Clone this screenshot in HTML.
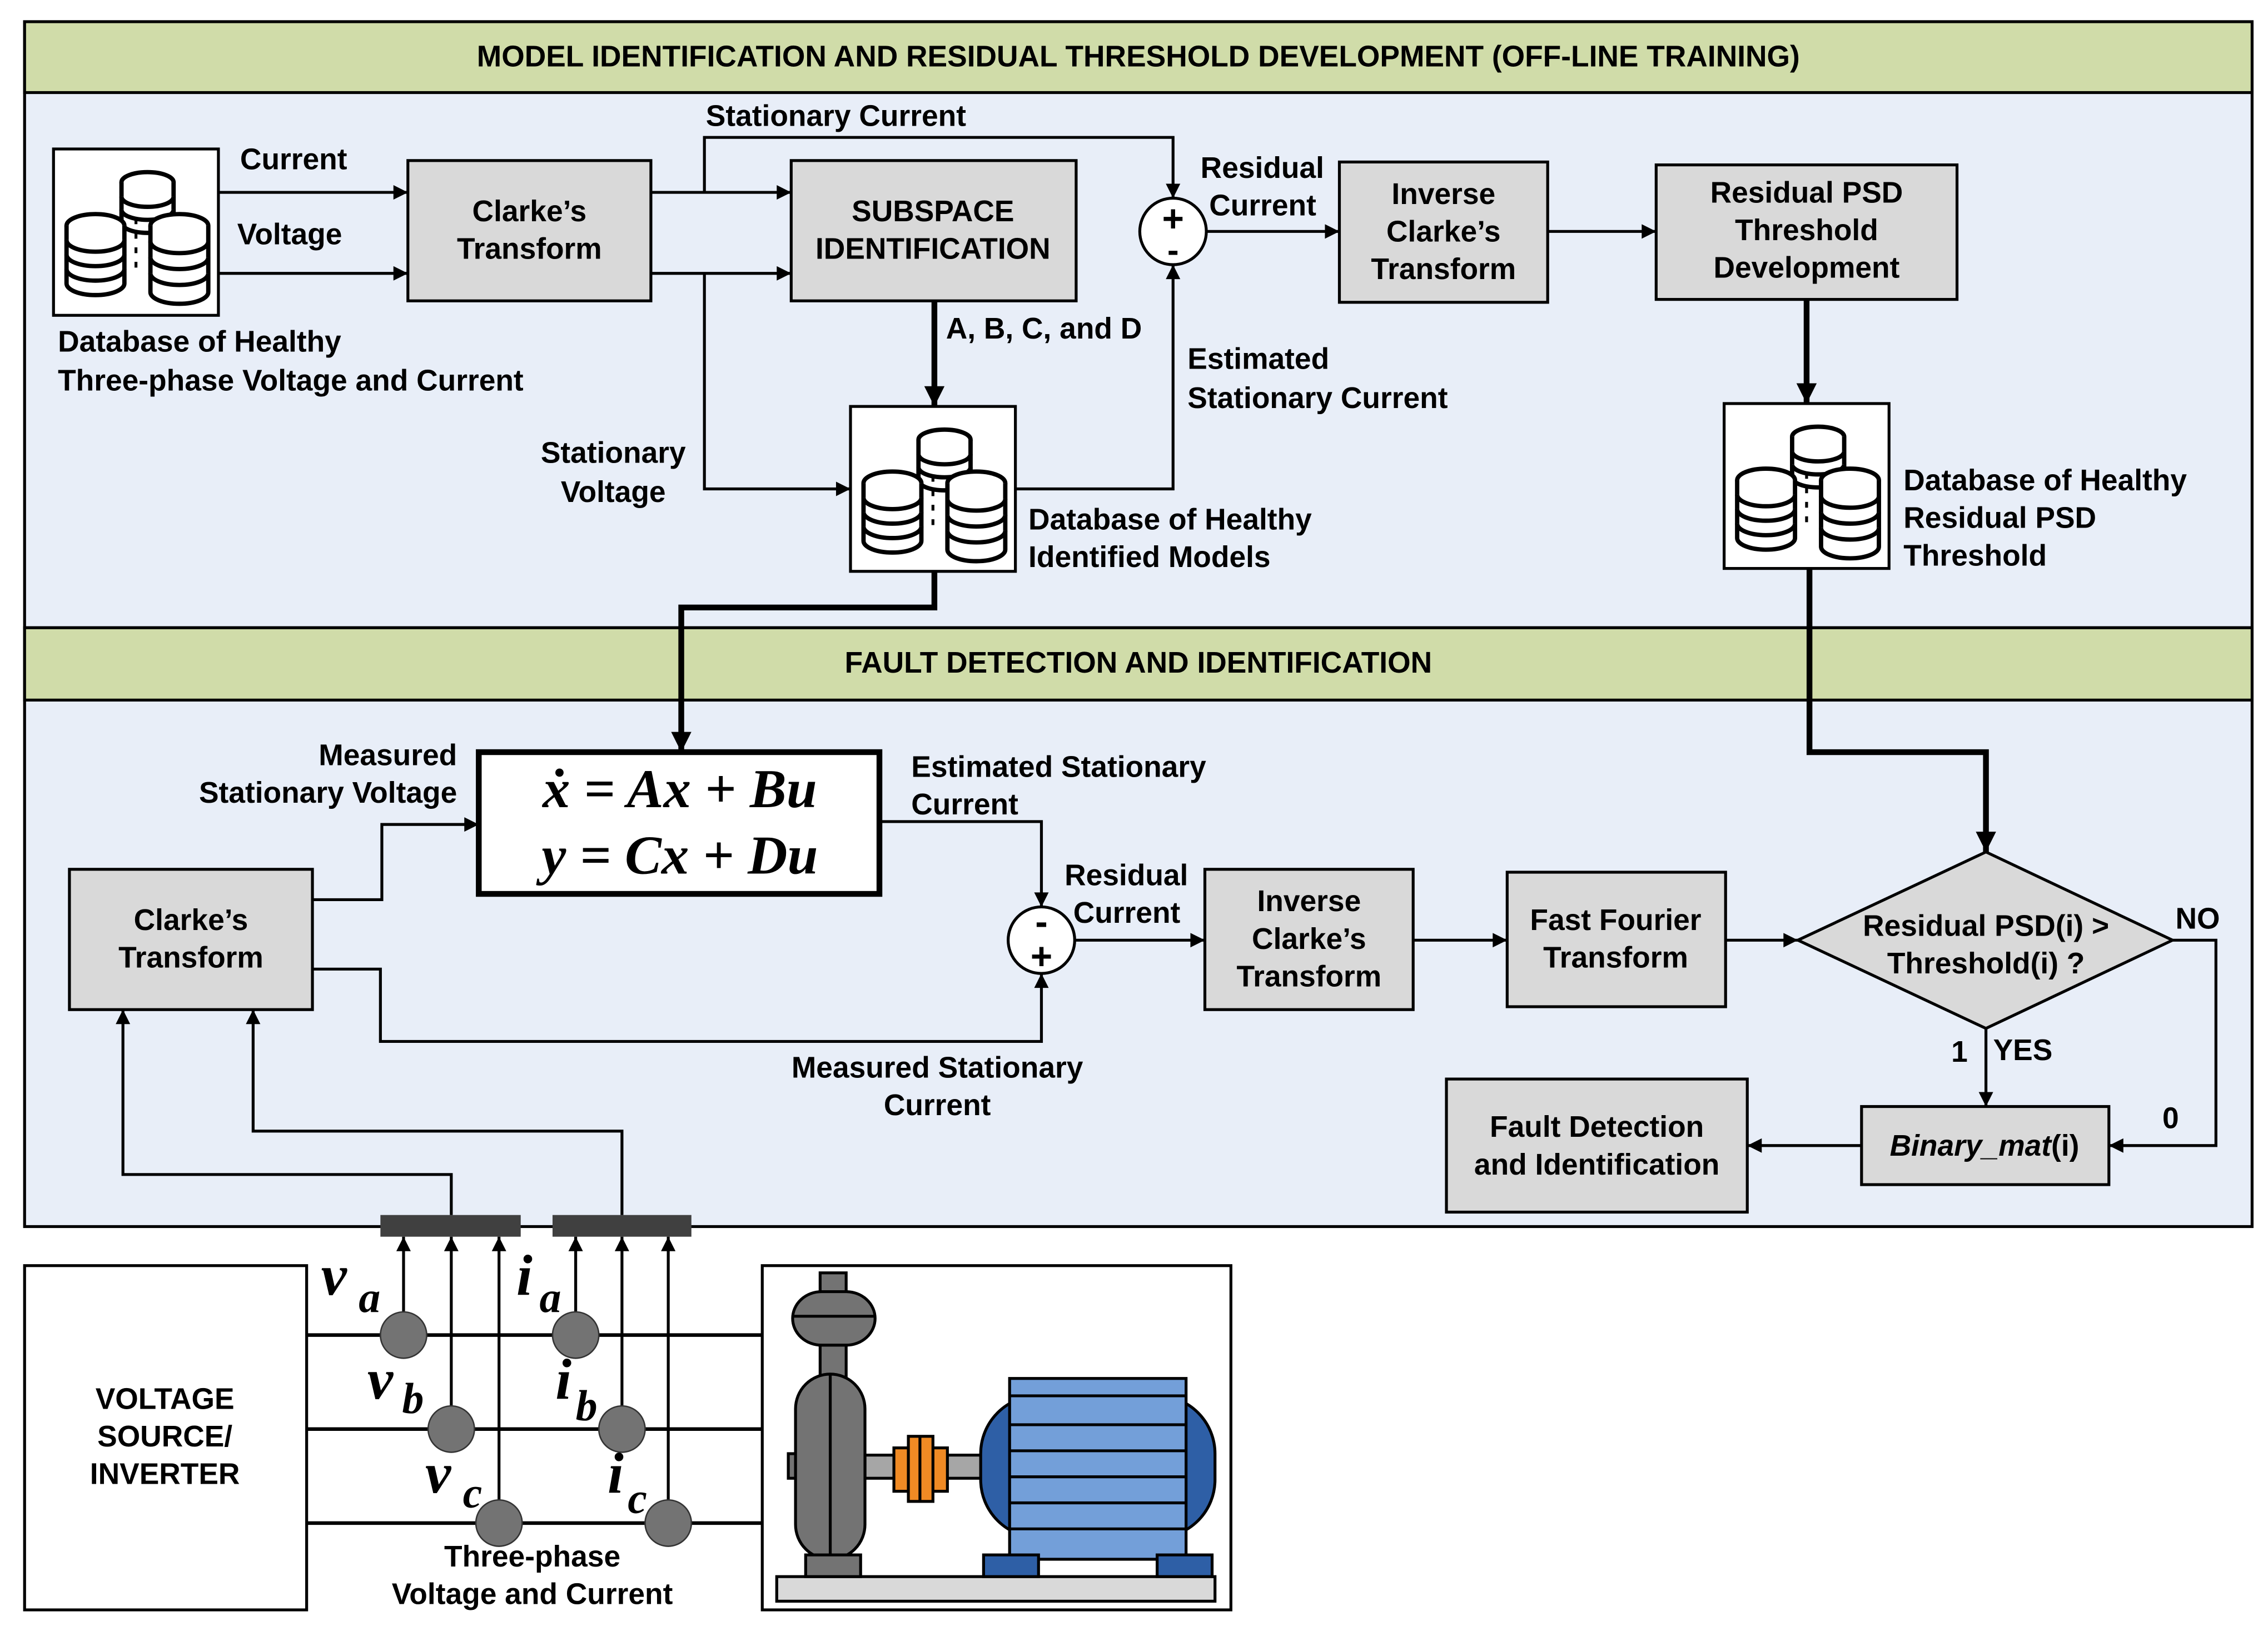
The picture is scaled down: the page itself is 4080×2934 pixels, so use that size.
<!DOCTYPE html>
<html><head><meta charset="utf-8"><style>html,body{margin:0;padding:0;background:#fff}svg{display:block}text{font-family:"Liberation Sans",sans-serif;font-weight:bold;fill:#000}.m{font-family:"Liberation Serif",serif;font-style:italic;font-weight:bold}</style></head><body>
<svg width="4080" height="2934" viewBox="0 0 1568 1127.6" preserveAspectRatio="none" xmlns="http://www.w3.org/2000/svg" font-size="20.5">
<defs>
<marker id="a" viewBox="0 0 10 10" refX="10" refY="5" markerWidth="14" markerHeight="10" markerUnits="userSpaceOnUse" orient="auto"><path d="M0,0L10,5L0,10z" fill="#000"/></marker>
<marker id="b" viewBox="0 0 10 10" refX="10" refY="5" markerWidth="18" markerHeight="14" markerUnits="userSpaceOnUse" orient="auto"><path d="M0,0L10,5L0,10z" fill="#000"/></marker>
<marker id="t" viewBox="0 0 10 10" refX="10" refY="5" markerWidth="14" markerHeight="10" markerUnits="userSpaceOnUse" orient="auto"><path d="M0,0L10,5L0,10z" fill="#000"/></marker>
<g id="db"><g fill="#fff" stroke="#000" stroke-width="3">
<ellipse cx="64" cy="20" rx="18" ry="7"/><path d="M46,20v28a18,7 0 0 0 36,0v-28"/><path d="M46,30a18,7 0 0 0 36,0M46,39a18,7 0 0 0 36,0"/>
<ellipse cx="28" cy="50" rx="20" ry="8"/><path d="M8,50v40a20,8 0 0 0 40,0v-40"/><path d="M8,60a20,8 0 0 0 40,0M8,70a20,8 0 0 0 40,0M8,80a20,8 0 0 0 40,0"/>
<ellipse cx="86" cy="50" rx="20" ry="8"/><path d="M66,50v46a20,8 0 0 0 40,0v-46"/><path d="M66,61a20,8 0 0 0 40,0M66,72a20,8 0 0 0 40,0M66,83a20,8 0 0 0 40,0"/></g>
<path d="M56,45v4M56,55v4M56,65v4M56,75v4" stroke="#000" stroke-width="2"/></g>
</defs>
<rect x="17" y="15" width="1540" height="419" fill="#e8eef8" stroke="#000" stroke-width="2"/>
<rect x="17" y="15" width="1540" height="49" fill="#d0dca9" stroke="#000" stroke-width="2"/>
<text x="787" y="46" text-anchor="middle">MODEL IDENTIFICATION AND RESIDUAL THRESHOLD DEVELOPMENT (OFF-LINE TRAINING)</text>
<rect x="17" y="434" width="1540" height="414" fill="#e8eef8" stroke="#000" stroke-width="2"/>
<rect x="17" y="434" width="1540" height="50" fill="#d0dca9" stroke="#000" stroke-width="2"/>
<text x="787" y="465" text-anchor="middle">FAULT DETECTION AND IDENTIFICATION</text>
<rect x="37" y="103" width="114" height="115" fill="#fff" stroke="#000" stroke-width="2"/><use href="#db" x="38" y="106"/>
<rect x="588" y="281" width="114" height="114" fill="#fff" stroke="#000" stroke-width="2"/><use href="#db" x="589" y="284"/>
<rect x="1192" y="279" width="114" height="114" fill="#fff" stroke="#000" stroke-width="2"/><use href="#db" x="1193" y="282"/>
<g fill="#d9d9d9" stroke="#000" stroke-width="2">
<rect x="282" y="111" width="168" height="97"/><rect x="547" y="111" width="197" height="97"/>
<rect x="926" y="112" width="144" height="97"/><rect x="1145" y="114" width="208" height="93"/>
<rect x="48" y="601" width="168" height="97"/><rect x="833" y="601" width="144" height="97"/>
<rect x="1042" y="603" width="151" height="93"/><rect x="1287" y="765" width="171" height="54"/>
<rect x="1000" y="746" width="208" height="92"/>
<path d="M1243,650L1373,589L1502,650L1373,711z"/></g>
<circle cx="811" cy="160" r="23" fill="#fff" stroke="#000" stroke-width="2"/>
<circle cx="720" cy="650" r="23" fill="#fff" stroke="#000" stroke-width="2"/>
<text x="811" y="160" text-anchor="middle" font-size="26">+</text><text x="811" y="181" text-anchor="middle" font-size="24">-</text>
<text x="720" y="646" text-anchor="middle" font-size="26">-</text><text x="720" y="670" text-anchor="middle" font-size="26">+</text>
<rect x="331" y="520" width="277" height="98" fill="#fff" stroke="#000" stroke-width="4"/>
<text class="m" x="470" y="558" text-anchor="middle" font-size="38">ẋ = Ax + Bu</text>
<text class="m" x="470" y="604" text-anchor="middle" font-size="38">y = Cx + Du</text>
<g fill="none" stroke="#000" stroke-width="2" marker-end="url(#a)">
<path d="M151,133H282"/><path d="M151,189H282"/><path d="M450,133H547"/><path d="M450,189H547"/>
<path d="M487,133V95H811V137"/><path d="M487,189V338H588"/><path d="M702,338H811V183"/>
<path d="M834,160H926"/><path d="M1070,160H1145"/>
<path d="M216,622H264V570H331"/><path d="M216,670H263V720H720V673"/><path d="M608,568H720V627"/>
<path d="M743,650H833"/><path d="M977,650H1042"/><path d="M1193,650H1243"/>
<path d="M1502,650H1532V792H1458"/><path d="M1373,711V765"/><path d="M1287,792H1208"/>
<path d="M312,840V812H85V698"/><path d="M430,840V782H175V698"/>
</g>
<g fill="none" stroke="#000" stroke-width="4" marker-end="url(#b)">
<path d="M646,208V281"/><path d="M1249,207V279"/><path d="M646,395V420H471V520"/><path d="M1251,393V520H1373V589"/>
</g>
<text x="166" y="117">Current</text><text x="164" y="169">Voltage</text>
<text x="40" y="243">Database of Healthy</text><text x="40" y="270">Three-phase Voltage and Current</text>
<text x="366" y="153" text-anchor="middle">Clarke’s</text><text x="366" y="179" text-anchor="middle">Transform</text>
<text x="645" y="153" text-anchor="middle">SUBSPACE</text><text x="645" y="179" text-anchor="middle">IDENTIFICATION</text>
<text x="488" y="87">Stationary Current</text>
<text x="830" y="123">Residual</text><text x="836" y="149">Current</text>
<text x="998" y="141" text-anchor="middle">Inverse</text><text x="998" y="167" text-anchor="middle">Clarke’s</text><text x="998" y="193" text-anchor="middle">Transform</text>
<text x="1249" y="140" text-anchor="middle">Residual PSD</text><text x="1249" y="166" text-anchor="middle">Threshold</text><text x="1249" y="192" text-anchor="middle">Development</text>
<text x="654" y="234">A, B, C, and D</text>
<text x="821" y="255">Estimated</text><text x="821" y="282">Stationary Current</text>
<text x="424" y="320" text-anchor="middle">Stationary</text><text x="424" y="347" text-anchor="middle">Voltage</text>
<text x="711" y="366">Database of Healthy</text><text x="711" y="392">Identified Models</text>
<text x="1316" y="339">Database of Healthy</text><text x="1316" y="365">Residual PSD</text><text x="1316" y="391">Threshold</text>
<text x="316" y="529" text-anchor="end">Measured</text><text x="316" y="555" text-anchor="end">Stationary Voltage</text>
<text x="630" y="537">Estimated Stationary</text><text x="630" y="563">Current</text>
<text x="736" y="612">Residual</text><text x="742" y="638">Current</text>
<text x="132" y="643" text-anchor="middle">Clarke’s</text><text x="132" y="669" text-anchor="middle">Transform</text>
<text x="905" y="630" text-anchor="middle">Inverse</text><text x="905" y="656" text-anchor="middle">Clarke’s</text><text x="905" y="682" text-anchor="middle">Transform</text>
<text x="1117" y="643" text-anchor="middle">Fast Fourier</text><text x="1117" y="669" text-anchor="middle">Transform</text>
<text x="1373" y="647" text-anchor="middle">Residual PSD(i) &gt;</text><text x="1373" y="673" text-anchor="middle">Threshold(i) ?</text>
<text x="1504" y="642">NO</text><text x="1349" y="734">1</text><text x="1378" y="733">YES</text><text x="1495" y="780">0</text>
<text x="648" y="745" text-anchor="middle">Measured Stationary</text><text x="648" y="771" text-anchor="middle">Current</text>
<text x="1372" y="799" text-anchor="middle"><tspan font-style="italic">Binary_mat</tspan>(i)</text>
<text x="1104" y="786" text-anchor="middle">Fault Detection</text><text x="1104" y="812" text-anchor="middle">and Identification</text>
<rect x="263" y="840" width="97" height="15" fill="#404040"/><rect x="382" y="840" width="96" height="15" fill="#404040"/>
<rect x="17" y="875" width="195" height="238" fill="#fff" stroke="#000" stroke-width="2"/>
<text x="114" y="974" text-anchor="middle">VOLTAGE</text><text x="114" y="1000" text-anchor="middle">SOURCE/</text><text x="114" y="1026" text-anchor="middle">INVERTER</text>
<rect x="527" y="875" width="324" height="238" fill="#fff" stroke="#000" stroke-width="2"/>
<g stroke="#000" stroke-width="2.5"><path d="M212,923H527M212,988H527M212,1053H527"/></g>
<g stroke="#000" stroke-width="2" marker-end="url(#t)"><path d="M279,923V855"/><path d="M312,988V855"/><path d="M345,1053V855"/><path d="M398,923V855"/><path d="M430,988V855"/><path d="M462,1053V855"/></g>
<g fill="#737373" stroke="#333" stroke-width="1"><circle cx="279" cy="923" r="16"/><circle cx="312" cy="988" r="16"/><circle cx="345" cy="1053" r="16"/><circle cx="398" cy="923" r="16"/><circle cx="430" cy="988" r="16"/><circle cx="462" cy="1053" r="16"/></g>
<text class="m" x="222" y="895" font-size="40">v</text><text class="m" x="248" y="907" font-size="30">a</text>
<text class="m" x="254" y="967" font-size="40">v</text><text class="m" x="278" y="977" font-size="30">b</text>
<text class="m" x="294" y="1032" font-size="40">v</text><text class="m" x="320" y="1042" font-size="30">c</text>
<text class="m" x="357" y="895" font-size="40">i</text><text class="m" x="373" y="907" font-size="30">a</text>
<text class="m" x="384" y="967" font-size="40">i</text><text class="m" x="398" y="982" font-size="30">b</text>
<text class="m" x="420" y="1032" font-size="40">i</text><text class="m" x="434" y="1046" font-size="30">c</text>
<text x="368" y="1083" text-anchor="middle">Three-phase</text><text x="368" y="1109" text-anchor="middle">Voltage and Current</text>
<g stroke="#000" stroke-width="2">
<rect x="537" y="1090" width="303" height="17" fill="#d9d9d9"/>
<rect x="545" y="1005" width="10" height="17" fill="#737373"/>
<rect x="598" y="1006" width="82" height="16" fill="#a6a6a6"/>
<rect x="618" y="1001" width="37" height="30" fill="#f08a24"/><rect x="628" y="993" width="17" height="45" fill="#f08a24"/><path d="M636,993V1038"/>
<rect x="567" y="880" width="18" height="15" fill="#737373"/>
<rect x="548" y="893" width="57" height="37" rx="20" fill="#737373"/><path d="M548,910H605"/>
<rect x="567" y="930" width="18" height="22" fill="#737373"/>
<rect x="550" y="950" width="48" height="128" rx="24" fill="#737373"/><path d="M574,950V1078"/>
<rect x="557" y="1075" width="38" height="15" fill="#737373"/>
<rect x="678" y="965" width="162" height="98" rx="40" fill="#2e5fa6"/>
<rect x="698" y="953" width="122" height="125" fill="#739fd9"/>
<path d="M698,965H820M698,985H820M698,1003H820M698,1021H820M698,1039H820M698,1057H820"/>
<rect x="680" y="1075" width="38" height="15" fill="#2e5fa6"/><rect x="800" y="1075" width="38" height="15" fill="#2e5fa6"/>
</g>
</svg>
</body></html>
